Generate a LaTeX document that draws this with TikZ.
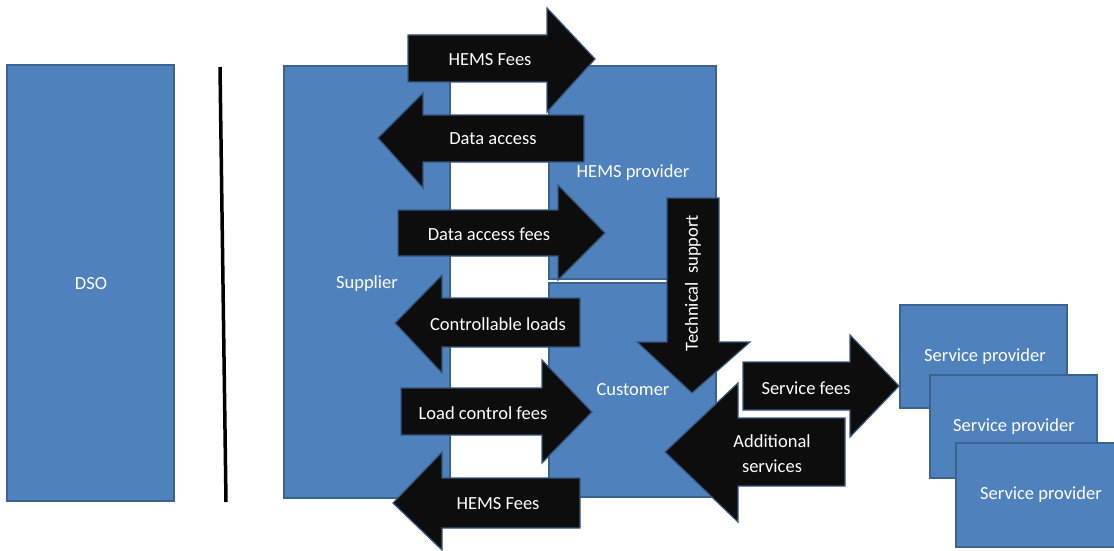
\documentclass[tikz,border=0pt]{standalone}
\usepackage{fontspec}
\setmainfont{Carlito}
\definecolor{boxfill}{HTML}{4F81BD}
\definecolor{boxedge}{HTML}{3A6392}
\definecolor{arrowfill}{HTML}{0D0D0D}
\definecolor{arrowedge}{HTML}{36587F}
\tikzset{
	actor/.style={fill=boxfill, draw=boxedge, line width=2pt},
	blockarrow/.style={fill=arrowfill, draw=arrowedge, line width=1.2pt, line join=miter},
	boxlabel/.style={text=white, font=\fontsize{18.5}{22}\selectfont},
	arrowtext/.style={text=white, align=center, font=\fontsize{18.5}{25}\selectfont}
}
\begin{document}
\begin{tikzpicture}[x=1pt, y=-1pt]
	\useasboundingbox (0,0) rectangle (1114,551);
	\clip (0,0) rectangle (1114,551);

	% Actors
	\draw[actor] (7,65) rectangle (174,501);
	\node[boxlabel] (dso) at (91,284) {DSO};
	\draw[line width=3.5pt] (220,67) -- (226,502);

	\draw[actor] (284,66) rectangle (450,498);
	\node[boxlabel] (supplier) at (367,284) {Supplier};
	\draw[actor] (549,66) rectangle (716,279);
	\node[boxlabel] (hems) at (633,173) {HEMS provider};
	\draw[actor] (549,283) rectangle (716,497);
	\node[boxlabel] (customer) at (633,390) {Customer};

	% Service providers, stacked
	\draw[actor] (900,305) rectangle (1067,408);
	\node[boxlabel] (sp1) at (985,357) {Service provider};
	\draw[actor] (930,375) rectangle (1097,478);
	\node[boxlabel] (sp2) at (1014,427) {Service provider};
	\draw[actor] (956,443) rectangle (1125,547);
	\node[boxlabel] (sp3) at (1041,495) {Service provider};

	% Flows between supplier and HEMS provider / customer
	\draw[blockarrow] (408,35) -- (547,35) -- (547,8) -- (595,59) -- (547,112) -- (547,82) -- (408,82) -- cycle;
	\node[arrowtext] (hemsfeesin) at (490,60) {HEMS Fees};

	\draw[blockarrow] (584,115) -- (423,115) -- (423,93) -- (378,138) -- (423,188) -- (423,162) -- (584,162) -- cycle;
	\node[arrowtext] (dataaccess) at (493,139) {Data access};

	\draw[blockarrow] (398,210) -- (558,210) -- (558,185) -- (605,233) -- (558,280) -- (558,256) -- (398,256) -- cycle;
	\node[arrowtext] (datafees) at (489,234) {Data access fees};

	\draw[blockarrow] (580,298) -- (442,298) -- (442,275) -- (395,323) -- (442,373) -- (442,347) -- (580,347) -- cycle;
	\node[arrowtext] (loads) at (498,324) {Controllable loads};

	\draw[blockarrow] (401,388) -- (542,388) -- (542,360) -- (592,412) -- (542,463) -- (542,435) -- (401,435) -- cycle;
	\node[arrowtext] (loadfees) at (483,413) {Load control fees};

	\draw[blockarrow] (580,478) -- (442,478) -- (442,452) -- (393,503) -- (442,550) -- (442,528) -- (580,528) -- cycle;
	\node[arrowtext] (hemsfeesout) at (498,504) {HEMS Fees};

	% HEMS provider to customer
	\draw[blockarrow] (667,198) -- (719,198) -- (719,342) -- (750,342) -- (692,393) -- (637,342) -- (667,342) -- cycle;
	\node[arrowtext, rotate=90] (support) at (693,283) {Technical~ support};

	% Customer and service providers
	\draw[blockarrow] (743,362) -- (850,362) -- (850,335) -- (899,386) -- (850,437) -- (850,410) -- (743,410) -- cycle;
	\node[arrowtext] (servicefees) at (806,388) {Service fees};

	\draw[blockarrow] (845,418) -- (738,418) -- (738,383) -- (665,452) -- (738,522) -- (738,486) -- (845,486) -- cycle;
	\node[arrowtext] (additional) at (772,454) {Additional\\services};
\end{tikzpicture}
\end{document}
